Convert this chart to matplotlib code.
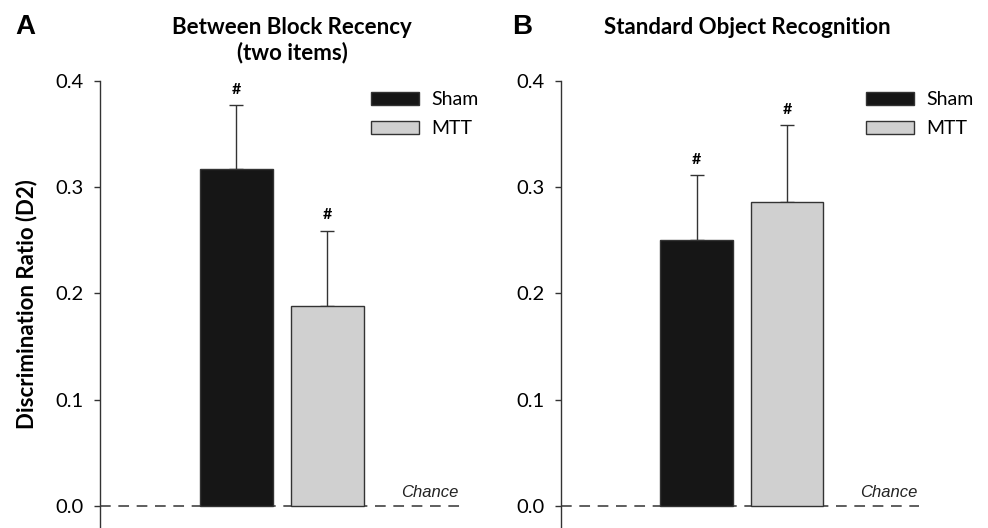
import matplotlib
matplotlib.use("Agg")
import matplotlib.pyplot as plt
from matplotlib.patches import Patch

groups = ["Sham", "MTT"]
titles = ["Between Block Recency\n(two items)", "Standard Object Recognition"]
panel_labels = ["A", "B"]
means = [[0.317, 0.188], [0.250, 0.286]]
sems = [[0.060, 0.071], [0.061, 0.072]]
yticks = [0.0, 0.1, 0.2, 0.3, 0.4]
ylabel = "Discrimination Ratio (D2)"
chance_label = "Chance"
sig_mark = "#"

colors = ["#161616", "#d0d0d0"]
edge = "#333333"
W, H = 988, 528
fig = plt.figure(figsize=(W / 100, H / 100), dpi=100)

FONT = "Lato"
ax_top = 80.7
axes_px = [(100, 360), (561, 358)]
legend_x = [0.753, 0.852]
ymin = -0.0207

for i, (left, width) in enumerate(axes_px):
    ax = fig.add_axes([left / W, 0, width / W, (H - ax_top) / H])
    x = list(range(len(groups)))
    ax.axhline(0, color="#333333", lw=1.1, ls=(0, (7, 5)), zorder=1)
    ax.bar(x, means[i], width=0.8, color=colors, edgecolor=edge, lw=1.0, zorder=3)
    ax.errorbar(x, means[i], yerr=[[0, 0], sems[i]], fmt="none", ecolor="#333333",
                elinewidth=1.0, capsize=4.7, capthick=1.0, zorder=2)
    for xi, m, s in zip(x, means[i], sems[i]):
        ax.text(xi, m + s + 0.008, sig_mark, ha="center", va="bottom",
                fontsize=11.5, fontweight="bold", family=FONT)
    ax.set_xlim(-1.5, 2.46)
    ax.set_ylim(ymin, 0.4)
    ax.set_yticks(yticks)
    ax.set_yticklabels([f"{t:.1f}" for t in yticks], family=FONT, fontsize=14.5)
    ax.set_xticks([])
    for sp in ["top", "right", "bottom"]:
        ax.spines[sp].set_visible(False)
    ax.spines["left"].set_color("#333333")
    ax.spines["left"].set_linewidth(1.0)
    ax.tick_params(axis="y", direction="out", length=4.3, width=1.0, color="#333333", pad=7.5)
    ax.text(2.44, 0.006, chance_label, ha="right", va="bottom", fontsize=12,
            style="italic", family="Liberation Sans", color="#222222")
    handles = [Patch(facecolor=c, edgecolor=edge, lw=1.0) for c in colors]
    ax.legend(handles, groups, loc="upper left", bbox_to_anchor=(legend_x[i], 0.977),
              frameon=False, prop={"family": FONT, "size": 14},
              handlelength=2.47, handleheight=0.67, handletextpad=0.62,
              labelspacing=0.62, borderaxespad=0, borderpad=0)
    if i == 0:
        ax.set_ylabel(ylabel, family=FONT, fontweight="bold", fontsize=16, labelpad=13)

fig.text(292 / W, 1 - 27 / H, titles[0].split("\n")[0], ha="center", va="center",
         family=FONT, fontweight="bold", fontsize=16)
fig.text(292 / W, 1 - 53 / H, titles[0].split("\n")[1], ha="center", va="center",
         family=FONT, fontweight="bold", fontsize=16)
fig.text(747 / W, 1 - 27 / H, titles[1], ha="center", va="center",
         family=FONT, fontweight="bold", fontsize=16)
fig.text(25 / W, 1 - 27 / H, panel_labels[0], ha="center", va="center",
         family="Liberation Sans", fontweight="bold", fontsize=20)
fig.text(522 / W, 1 - 27 / H, panel_labels[1], ha="center", va="center",
         family="Liberation Sans", fontweight="bold", fontsize=20)

fig.savefig("out.png", dpi=100)
